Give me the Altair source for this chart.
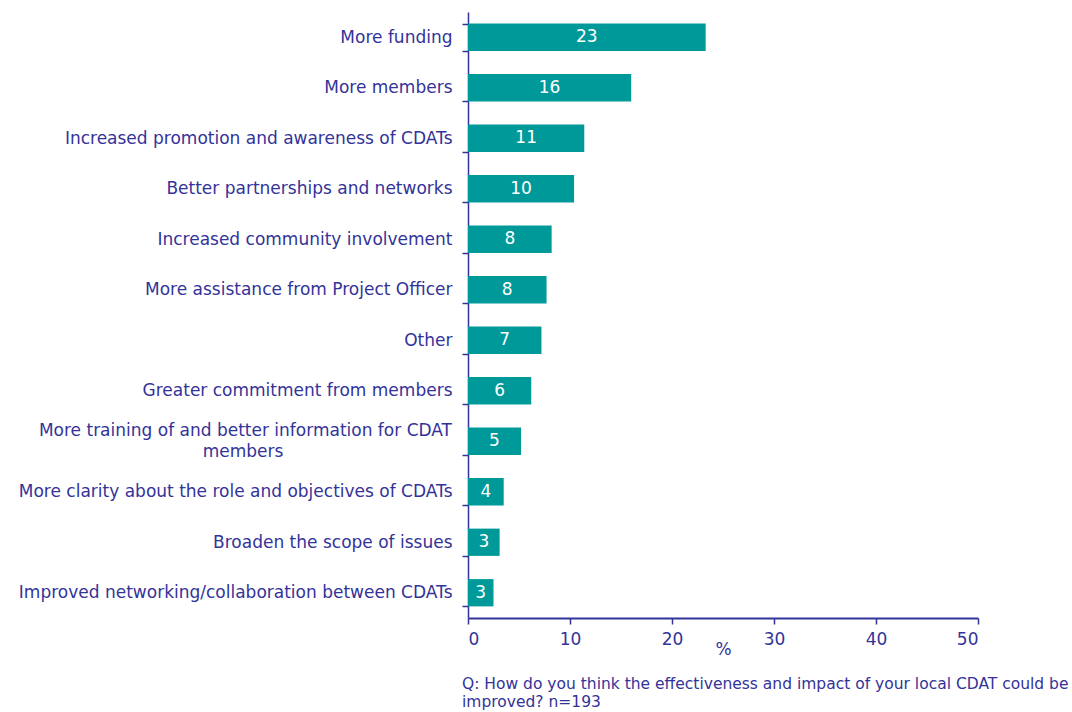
import altair as alt
import pandas as pd

categories = [
    "More funding",
    "More members",
    "Increased promotion and awareness of CDATs",
    "Better partnerships and networks",
    "Increased community involvement",
    "More assistance from Project Officer",
    "Other",
    "Greater commitment from members",
    "More training of and better information for CDAT members",
    "More clarity about the role and objectives of CDATs",
    "Broaden the scope of issues",
    "Improved networking/collaboration between CDATs",
]
values = [23.3, 16.0, 11.4, 10.4, 8.2, 7.7, 7.2, 6.2, 5.2, 3.5, 3.1, 2.5]
labels = ["23", "16", "11", "10", "8", "8", "7", "6", "5", "4", "3", "3"]
x_ticks = [0, 10, 20, 30, 40, 50]

wrapped_cat = "More training of and better information for CDAT members"
wrapped_lines = ["More training of and better information for CDAT", "members"]

footnote = [
    "Q: How do you think  the effectiveness and impact of your local CDAT could be",
    "improved? n=193",
]

df = pd.DataFrame({"cat": categories, "value": values, "label": labels})

TEXT = "#333399"
FONT = "DejaVu Sans"
FS = 17
W, H = 510, 606

y_enc = alt.Y(
    "cat:N",
    sort=categories,
    scale=alt.Scale(paddingInner=0.46, paddingOuter=0.23),
    axis=alt.Axis(
        title=None,
        labelExpr=f"datum.label == '{wrapped_cat}' ? '' : datum.label",
        labelFont=FONT,
        labelFontSize=FS,
        labelColor=TEXT,
        labelPadding=10,
        labelLimit=600,
        tickBand="extent",
        tickColor=TEXT,
        tickSize=6,
        tickWidth=1.5,
        domainColor=TEXT,
        domainWidth=1.5,
    ),
)

x_enc = alt.X(
    "value:Q",
    scale=alt.Scale(domain=[0, 50], nice=False),
    axis=alt.Axis(
        values=x_ticks,
        title="%",
        titleFont=FONT,
        titleFontSize=FS,
        titleFontWeight="normal",
        titleColor=TEXT,
        titlePadding=-6,
        labelFont=FONT,
        labelFontSize=FS,
        labelColor=TEXT,
        labelPadding=7,
        tickColor=TEXT,
        tickSize=6,
        tickWidth=1.5,
        domainColor=TEXT,
        domainWidth=2,
        grid=False,
    ),
)

bars = alt.Chart(df).mark_bar(color="#009999").encode(y=y_enc, x=x_enc)

text = (
    alt.Chart(df)
    .transform_calculate(mid="datum.value / 2")
    .mark_text(color="white", font=FONT, fontSize=FS, align="center", baseline="middle")
    .encode(
        y=alt.Y("cat:N", sort=categories),
        x=alt.X("mid:Q"),
        text="label:N",
    )
)

wrap_base = alt.Chart(df).transform_filter(alt.datum.cat == wrapped_cat)
wrap1 = wrap_base.mark_text(
    color=TEXT, font=FONT, fontSize=FS, align="right", baseline="middle", dy=-10
).encode(
    y=alt.Y("cat:N", sort=categories), x=alt.value(-16), text=alt.value(wrapped_lines[0])
)
wrap2 = wrap_base.mark_text(
    color=TEXT, font=FONT, fontSize=FS, align="center", baseline="middle", dy=11
).encode(
    y=alt.Y("cat:N", sort=categories), x=alt.value(-225), text=alt.value(wrapped_lines[1])
)

note = (
    alt.Chart(pd.DataFrame({"a": [0]}))
    .mark_text(
        color=TEXT,
        font=FONT,
        fontSize=15.5,
        align="left",
        baseline="middle",
        lineHeight=18,
    )
    .encode(x=alt.value(-6), y=alt.value(672), text=alt.value(footnote))
)

chart = (
    alt.layer(bars, text, wrap1, wrap2, note)
    .properties(
        width=W,
        height=H,
        autosize=alt.AutoSizeParams(type="none"),
        padding={"left": 468, "top": 12, "right": 94, "bottom": 94},
        view=alt.ViewBackground(stroke="transparent", strokeWidth=0),
    )
    .configure_view(strokeWidth=0, stroke="transparent")
    .configure(background="white")
)

chart.save("out.html", embed_options={"renderer": "svg", "actions": False})
